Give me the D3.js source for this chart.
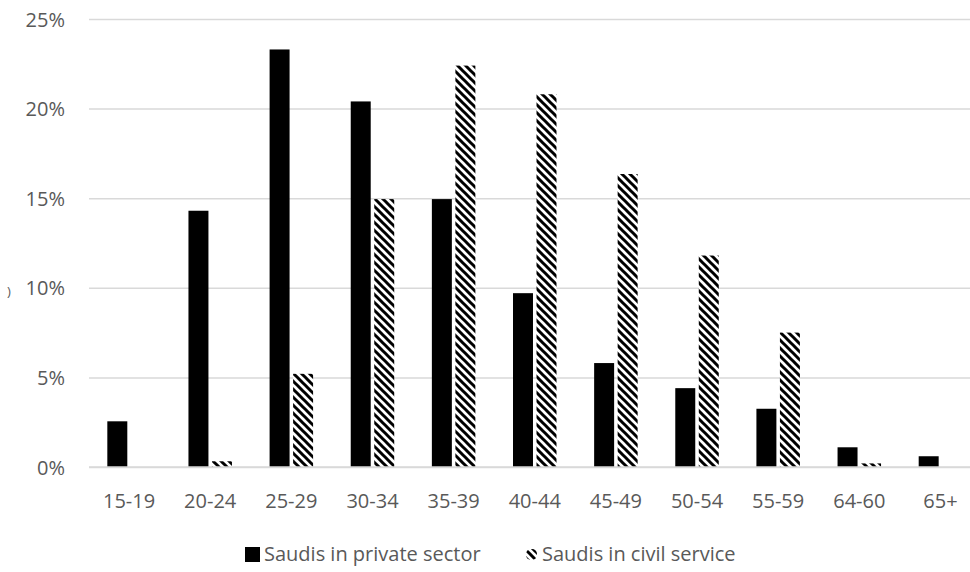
<!DOCTYPE html>
<html>
<head>
<meta charset="utf-8">
<script src="https://cdn.jsdelivr.net/npm/d3@7"></script>
<style>
  html, body { margin: 0; padding: 0; background: #fff; }
  svg { display: block; }
  text { font-family: "Open Sans", "Noto Sans", sans-serif; fill: #595959; }
</style>
</head>
<body>
<svg id="chart" width="970" height="572"></svg>
<script>
// Age groups along the x axis
const categories = ["15-19", "20-24", "25-29", "30-34", "35-39", "40-44", "45-49", "50-54", "55-59", "64-60", "65+"];
// Share of each workforce by age group (%)
const privateSector = [2.55, 14.3, 23.3, 20.4, 14.95, 9.7, 5.8, 4.4, 3.25, 1.1, 0.6];
const civilService  = [0, 0.32, 5.2, 14.95, 22.4, 20.8, 16.35, 11.8, 7.5, 0.2, 0];
const seriesNames = ["Saudis in private sector", "Saudis in civil service"];
const yTicks = [0, 5, 10, 15, 20, 25];

const svg = d3.select("#chart");
// The plot area runs a little past the right edge of the canvas
const plot = { left: 88.5, right: 981, top: 19, bottom: 467 };
const gridLeft = 89, gridRight = 970;

// Diagonal hatch used for the civil service bars
const defs = svg.append("defs");
const pat = defs.append("pattern")
  .attr("id", "hatch")
  .attr("patternUnits", "userSpaceOnUse")
  .attr("width", 8).attr("height", 8);
pat.append("rect").attr("width", 8).attr("height", 8).attr("fill", "#fff");
pat.append("path")
  .attr("d", "M0,0 L8,8 M-4,4 L4,12 M4,-4 L12,4")
  .attr("stroke", "#000").attr("stroke-width", 3);

const x = d3.scaleBand()
  .domain(categories)
  .range([plot.left, plot.right])
  .paddingInner(0.464)
  .paddingOuter(0.232);

const xInner = d3.scaleBand()
  .domain([0, 1])
  .range([0, x.bandwidth()])
  .paddingInner(0.15);

const y = d3.scaleLinear()
  .domain([0, 25])
  .range([plot.bottom, plot.top]);

// Horizontal gridlines and y tick labels
const yAxis = d3.axisLeft(y)
  .tickValues(yTicks)
  .tickSize(-(gridRight - gridLeft))
  .tickPadding(24)
  .tickFormat(d => d + "%");

const gy = svg.append("g")
  .attr("transform", `translate(${gridLeft},0)`)
  .call(yAxis);
gy.select(".domain").remove();
gy.selectAll(".tick line").attr("stroke", "#d9d9d9").attr("stroke-width", 1.5);
gy.selectAll(".tick text")
  .attr("font-size", 20)
  .attr("fill", "#595959")
  .attr("dy", "0.35em");

// Bars
const fills = ["#000", "url(#hatch)"];
const seriesData = [privateSector, civilService];
seriesData.forEach((vals, si) => {
  svg.append("g").selectAll("rect")
    .data(vals.map((v, i) => ({ cat: categories[i], v })))
    .join("rect")
    .attr("x", d => x(d.cat) + xInner(si))
    .attr("width", xInner.bandwidth())
    .attr("y", d => y(d.v))
    .attr("height", d => y(0) - y(d.v))
    .attr("fill", fills[si]);
});

// Baseline
svg.append("line")
  .attr("x1", gridLeft).attr("x2", gridRight)
  .attr("y1", y(0)).attr("y2", y(0))
  .attr("stroke", "#d9d9d9").attr("stroke-width", 1.5);

// Category labels
const xAxis = d3.axisBottom(x).tickSize(0).tickPadding(27);
const gx = svg.append("g")
  .attr("transform", `translate(0,${plot.bottom})`)
  .call(xAxis);
gx.select(".domain").remove();
gx.selectAll(".tick text")
  .attr("font-size", 20)
  .attr("fill", "#595959");

// Clipped axis title fragment at the left edge
svg.append("text")
  .attr("x", 7).attr("y", 296)
  .attr("font-size", 13)
  .text(")");

// Legend
const legend = svg.append("g");
const legendItems = [
  { name: seriesNames[0], fill: fills[0], mx: 245, my: 547, ms: 15, tx: 264 },
  { name: seriesNames[1], fill: fills[1], mx: 526, my: 549, ms: 11, tx: 542 }
];
legendItems.forEach(it => {
  legend.append("rect")
    .attr("x", it.mx).attr("y", it.my)
    .attr("width", it.ms).attr("height", it.ms)
    .attr("rx", it.fill === fills[1] ? 5 : 0)
    .attr("fill", it.fill);
  legend.append("text")
    .attr("x", it.tx).attr("y", 561)
    .attr("font-size", 20)
    .text(it.name);
});
</script>
</body>
</html>
